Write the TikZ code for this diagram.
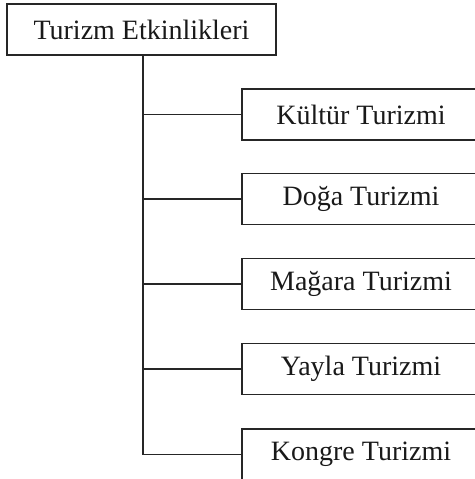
\documentclass[tikz,border=0pt]{standalone}
\usepackage{fontspec}
\setmainfont{Liberation Serif}
\begin{document}
\begin{tikzpicture}[x=1pt,y=-1pt,
  box/.style={draw=black!85,line width=1.8pt,inner sep=0pt,outer sep=0pt,font=\fontsize{28}{30}\selectfont,text=black!90},
  rootbox/.style={box,minimum width=269pt,minimum height=51pt},
  branchbox/.style={box,minimum width=238pt,minimum height=51pt},
  conn/.style={draw=black!85,line width=1.8pt}]
\useasboundingbox[fill=white] (0,0) rectangle (474,479);
\node[rootbox] (root) at (141.5,29.5) {Turizm Etkinlikleri};
\node[branchbox] (b1) at (361,114.5) {Kültür Turizmi};
\node[branchbox] (b2) at (361,199) {Doğa Turizmi};
\node[branchbox] (b3) at (361,284) {Mağara Turizmi};
\node[branchbox] (b4) at (361,369) {Yayla Turizmi};
\node[branchbox] (b5) at (361,454.5) {Kongre Turizmi};
\coordinate (trunk) at (143,0);
\coordinate (trunkend) at (143,454.5);
\draw[conn] (trunk |- root.south) -- (trunkend) -- (b5.west);
\foreach \b in {b1,b2,b3,b4}{
  \draw[conn] (trunk |- \b.west) -- (\b.west);
}
\end{tikzpicture}
\end{document}
